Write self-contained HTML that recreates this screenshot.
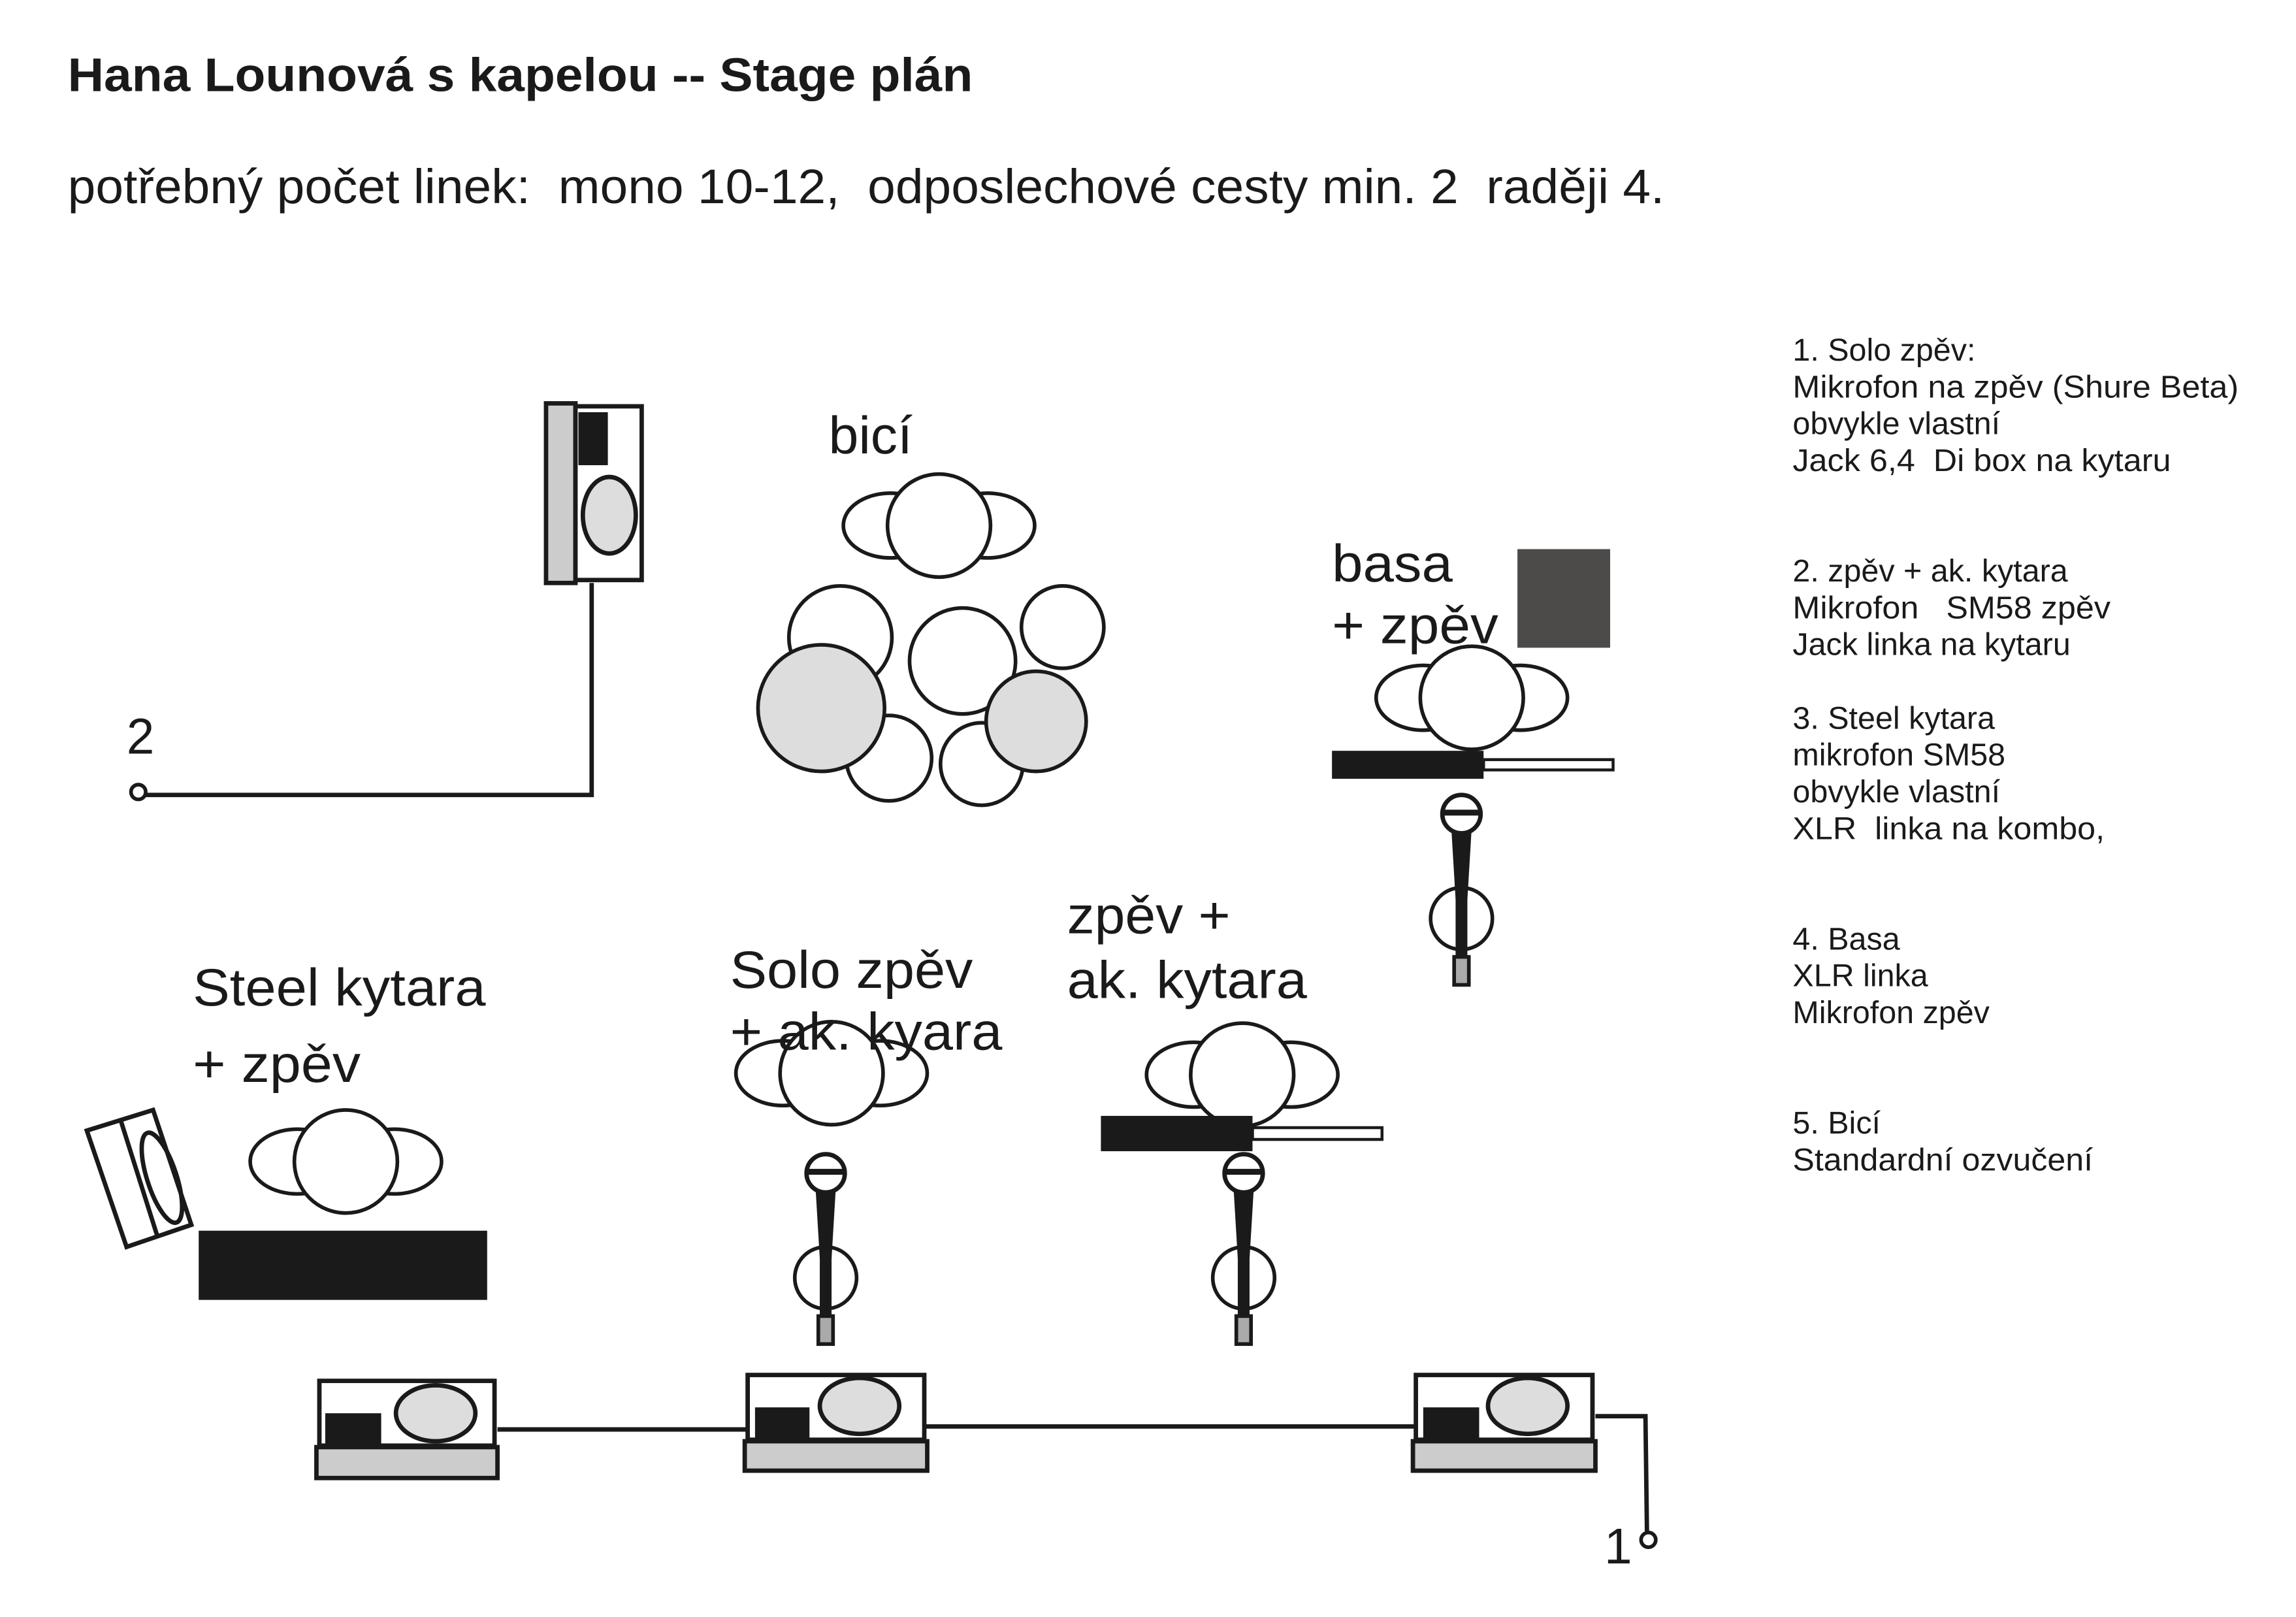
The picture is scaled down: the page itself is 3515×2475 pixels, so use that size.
<!DOCTYPE html>
<html><head><meta charset="utf-8"><style>
html,body{margin:0;padding:0;background:#fff;}
svg{display:block;}
text{font-family:"Liberation Sans",Arial,sans-serif;fill:#1a1a1a;white-space:pre;}
</style></head><body>
<svg width="3515" height="2475" viewBox="0 0 1560 1098.4" preserveAspectRatio="none" xmlns="http://www.w3.org/2000/svg" xml:space="preserve">
<defs>
<g id="mic">
<polygon points="-7,-50 7,-50 4,0 -4,0" fill="#1a1a1a"/>
<rect x="-4" y="-2" width="8" height="42" fill="#1a1a1a"/>
<circle cx="0" cy="-58" r="13" fill="#fff" stroke="#1a1a1a" stroke-width="3"/>
<rect x="-13" y="-61" width="26" height="4" fill="#1a1a1a"/>
<circle cx="0" cy="13" r="21" fill="none" stroke="#1a1a1a" stroke-width="2.5"/>
<rect x="-5" y="39" width="10" height="19" fill="#aaa" stroke="#1a1a1a" stroke-width="2.5"/>
</g>
<g id="head">
<ellipse cx="-33" cy="0" rx="32" ry="22" fill="#fff" stroke="#1a1a1a" stroke-width="2.5"/>
<ellipse cx="33" cy="0" rx="32" ry="22" fill="#fff" stroke="#1a1a1a" stroke-width="2.5"/>
<circle cx="0" cy="0" r="35" fill="#fff" stroke="#1a1a1a" stroke-width="2.5"/>
</g>
</defs>
<rect width="1560" height="1098.4" fill="#fff"/>
<text x="46" y="62" font-size="32" font-weight="bold" textLength="615" lengthAdjust="spacingAndGlyphs">Hana Lounová s kapelou -- Stage plán</text>
<text x="46" y="138" font-size="33" textLength="1085" lengthAdjust="spacingAndGlyphs">potřebný počet linek:  mono 10-12,  odposlechové cesty min. 2  raději 4.</text>

<g font-size="21.5">
<text x="1218" y="245">1. Solo zpěv:</text>
<text x="1218" y="270" textLength="303" lengthAdjust="spacingAndGlyphs">Mikrofon na zpěv (Shure Beta)</text>
<text x="1218" y="295">obvykle vlastní</text>
<text x="1218" y="320" textLength="257" lengthAdjust="spacingAndGlyphs">Jack 6,4  Di box na kytaru</text>
<text x="1218" y="395">2. zpěv + ak. kytara</text>
<text x="1218" y="420" textLength="216" lengthAdjust="spacingAndGlyphs">Mikrofon   SM58 zpěv</text>
<text x="1218" y="445">Jack linka na kytaru</text>
<text x="1218" y="495">3. Steel kytara</text>
<text x="1218" y="520">mikrofon SM58</text>
<text x="1218" y="545">obvykle vlastní</text>
<text x="1218" y="570" textLength="212" lengthAdjust="spacingAndGlyphs">XLR  linka na kombo,</text>
<text x="1218" y="645">4. Basa</text>
<text x="1218" y="670">XLR linka</text>
<text x="1218" y="695">Mikrofon zpěv</text>
<text x="1218" y="770">5. Bicí</text>
<text x="1218" y="795" textLength="204" lengthAdjust="spacingAndGlyphs">Standardní ozvučení</text>
</g>

<rect x="371" y="274" width="20" height="122" fill="#ccc" stroke="#1a1a1a" stroke-width="3"/>
<rect x="391" y="276" width="45" height="118" fill="#fff" stroke="#1a1a1a" stroke-width="3"/>
<rect x="393" y="280" width="20" height="36" fill="#1a1a1a"/>
<ellipse cx="414" cy="350" rx="18" ry="26" fill="#ddd" stroke="#1a1a1a" stroke-width="3"/>
<polyline points="402,396 402,540 97,540" fill="none" stroke="#1a1a1a" stroke-width="3"/>
<circle cx="94" cy="538" r="5" fill="#fff" stroke="#1a1a1a" stroke-width="2.5"/>
<text x="86" y="512" font-size="34">2</text>

<text x="563" y="308" font-size="36" textLength="57" lengthAdjust="spacingAndGlyphs">bicí</text>
<g transform="translate(638,357)"><use href="#head"/></g>
<g stroke="#1a1a1a" stroke-width="2.5">
<circle cx="571" cy="433" r="35" fill="#fff"/>
<circle cx="654" cy="449" r="36" fill="#fff"/>
<circle cx="722" cy="426" r="28" fill="#fff"/>
<circle cx="604" cy="515" r="29" fill="#fff"/>
<circle cx="667" cy="519" r="28" fill="#fff"/>
<circle cx="558" cy="481" r="43" fill="#ddd"/>
<circle cx="704" cy="490" r="34" fill="#ddd"/>
</g>

<text x="905" y="395" font-size="36" textLength="82" lengthAdjust="spacingAndGlyphs">basa</text>
<text x="905" y="437" font-size="36" textLength="113" lengthAdjust="spacingAndGlyphs">+ zpěv</text>
<rect x="1031" y="373" width="63" height="67" fill="#4d4a4a"/>
<g transform="translate(1000,474)"><use href="#head"/></g>
<rect x="1008" y="516" width="88" height="7" fill="#fff" stroke="#1a1a1a" stroke-width="2"/>
<rect x="905" y="510" width="103" height="19" fill="#1a1a1a"/>
<g transform="translate(993,611)"><use href="#mic"/></g>

<text x="131" y="683" font-size="36" textLength="199" lengthAdjust="spacingAndGlyphs">Steel kytara</text>
<text x="131" y="735" font-size="36" textLength="114" lengthAdjust="spacingAndGlyphs">+ zpěv</text>
<polygon points="59,768 104,754 130,832 86,847" fill="#fff" stroke="#1a1a1a" stroke-width="3"/>
<line x1="82" y1="761" x2="107" y2="840" stroke="#1a1a1a" stroke-width="3"/>
<ellipse cx="110" cy="800" rx="10" ry="32" transform="rotate(-18 110 800)" fill="none" stroke="#1a1a1a" stroke-width="3"/>
<g transform="translate(235,789)"><use href="#head"/></g>
<rect x="135" y="836" width="196" height="47" fill="#1a1a1a"/>

<text x="496" y="671" font-size="36" textLength="165" lengthAdjust="spacingAndGlyphs">Solo zpěv</text>
<g transform="translate(565,729)"><use href="#head"/></g>
<text x="496" y="713" font-size="36" textLength="185" lengthAdjust="spacingAndGlyphs">+ ak. kyara</text>
<g transform="translate(561,855)"><use href="#mic"/></g>

<text x="725" y="634" font-size="36" textLength="111" lengthAdjust="spacingAndGlyphs">zpěv +</text>
<text x="725" y="678" font-size="36" textLength="163" lengthAdjust="spacingAndGlyphs">ak. kytara</text>
<g transform="translate(844,730)"><use href="#head"/></g>
<rect x="851" y="766" width="88" height="8" fill="#fff" stroke="#1a1a1a" stroke-width="2"/>
<rect x="748" y="758" width="103" height="24" fill="#1a1a1a"/>
<g transform="translate(845,855)"><use href="#mic"/></g>

<g stroke="#1a1a1a" stroke-width="3">
<rect x="217" y="938" width="119" height="44" fill="#fff"/>
<rect x="215" y="983" width="123" height="21" fill="#ccc"/>
<rect x="508" y="934" width="120" height="44" fill="#fff"/>
<rect x="506" y="979" width="124" height="20" fill="#ccc"/>
<rect x="962" y="934" width="120" height="44" fill="#fff"/>
<rect x="960" y="979" width="124" height="20" fill="#ccc"/>
<ellipse cx="296" cy="960" rx="27" ry="19" fill="#ddd"/>
<ellipse cx="584" cy="955" rx="27" ry="19" fill="#ddd"/>
<ellipse cx="1038" cy="955" rx="27" ry="19" fill="#ddd"/>
</g>
<rect x="221" y="960" width="38" height="21" fill="#1a1a1a"/>
<rect x="513" y="956" width="37" height="21" fill="#1a1a1a"/>
<rect x="967" y="956" width="38" height="21" fill="#1a1a1a"/>
<g stroke="#1a1a1a" stroke-width="3" fill="none">
<line x1="338" y1="971" x2="507" y2="971"/>
<line x1="629" y1="969" x2="962" y2="969"/>
<polyline points="1084,962 1118,962 1119,1040"/>
</g>
<circle cx="1120" cy="1046" r="5" fill="#fff" stroke="#1a1a1a" stroke-width="2.5"/>
<text x="1090" y="1062" font-size="34">1</text>
</svg>
</body></html>
